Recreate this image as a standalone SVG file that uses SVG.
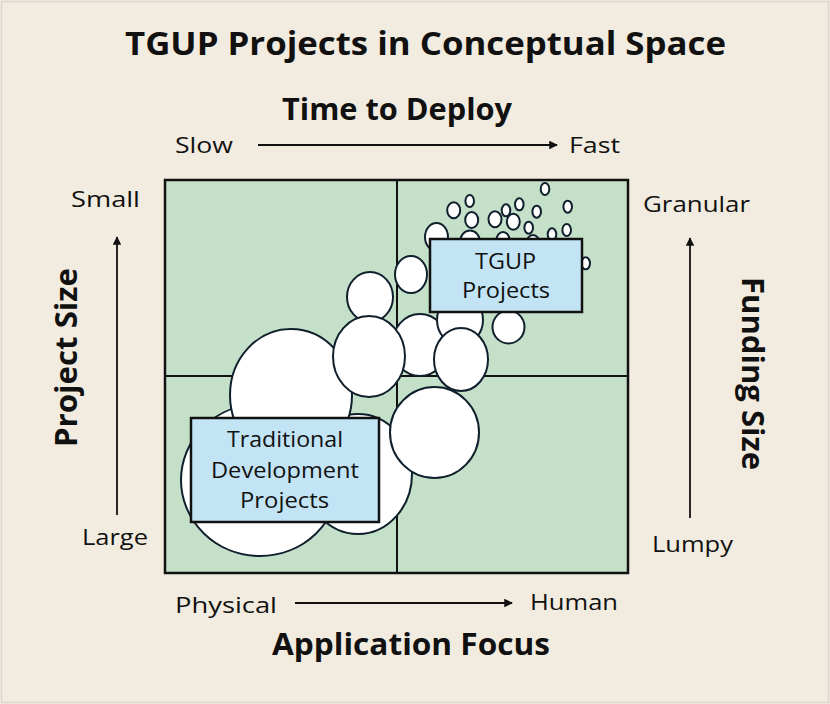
<svg xmlns="http://www.w3.org/2000/svg" width="830" height="704" viewBox="0 0 830 704">
  <defs>
    <style>
      .bg { fill: #f2ece0; }
      .quad { fill: #c5e0c9; }
      .grid { stroke: #111; stroke-width: 2; fill: none; }
      .frame { stroke: #111; stroke-width: 2.5; fill: none; }
      .bub { fill: #ffffff; stroke: #0f1f2c; stroke-width: 2; }
      .lbl { fill: #c2e4f4; stroke: #111; stroke-width: 2.5; }
      .t { font-family: "Open Sans", "Liberation Sans", sans-serif; fill: #111; }
      .h { font-family: "Open Sans", "Liberation Sans", sans-serif; font-weight: bold; fill: #111; }
      .ax { stroke: #111; stroke-width: 1.8; fill: none; }
    </style>
    <marker id="ah" viewBox="0 0 10 10" refX="9" refY="5" markerWidth="4.8" markerHeight="4.8" orient="auto" markerUnits="strokeWidth">
      <path d="M0,0 L10,5 L0,10 z" fill="#111"/>
    </marker>
  </defs>

  <rect class="bg" x="0" y="0" width="830" height="704"/>
  <rect x="1.5" y="1.5" width="827" height="701" fill="none" stroke="#dcd7ce" stroke-width="1.5"/>

  <text class="h" x="425.5" y="55" font-size="32" text-anchor="middle" textLength="601" lengthAdjust="spacingAndGlyphs">TGUP Projects in Conceptual Space</text>
  <text class="h" x="397" y="120" font-size="30" text-anchor="middle" textLength="230" lengthAdjust="spacingAndGlyphs">Time to Deploy</text>

  <g id="quadrants">
    <rect class="quad" x="165" y="180" width="463" height="393"/>
    <line class="grid" x1="397" y1="180" x2="397" y2="573"/>
    <line class="grid" x1="165" y1="376" x2="628" y2="376"/>
  </g>

  <g id="traditional-bubbles">
    <ellipse class="bub" cx="260" cy="480" rx="79" ry="76"/>
    <ellipse class="bub" cx="358" cy="474" rx="54" ry="60"/>
    <ellipse class="bub" cx="291" cy="395" rx="61" ry="66"/>
    <ellipse class="bub" cx="370" cy="297" rx="23" ry="25"/>
    <ellipse class="bub" cx="411" cy="274.5" rx="16" ry="18.5"/>
    <ellipse class="bub" cx="420" cy="345" rx="28" ry="31"/>
    <ellipse class="bub" cx="460" cy="320" rx="23" ry="25"/>
    <ellipse class="bub" cx="508.5" cy="327" rx="16" ry="16.5"/>
    <ellipse class="bub" cx="461" cy="359.5" rx="27" ry="31.5"/>
    <ellipse class="bub" cx="369" cy="356.5" rx="36" ry="40.5"/>
    <ellipse class="bub" cx="434.5" cy="432.5" rx="44.5" ry="45.5"/>
  </g>

  <g id="tgup-bubbles">
    <ellipse class="bub" cx="545" cy="189" rx="4.3" ry="6"/>
    <ellipse class="bub" cx="469.7" cy="201" rx="4.3" ry="6"/>
    <ellipse class="bub" cx="453.7" cy="210.3" rx="6.5" ry="8"/>
    <ellipse class="bub" cx="471.7" cy="220" rx="6.5" ry="8"/>
    <ellipse class="bub" cx="495" cy="219.3" rx="6.5" ry="8"/>
    <ellipse class="bub" cx="506" cy="210.3" rx="4.3" ry="6"/>
    <ellipse class="bub" cx="519.3" cy="204.3" rx="4.3" ry="6"/>
    <ellipse class="bub" cx="513.3" cy="221.7" rx="6.5" ry="8"/>
    <ellipse class="bub" cx="536.7" cy="211.7" rx="4.3" ry="6"/>
    <ellipse class="bub" cx="567.7" cy="206.7" rx="4.3" ry="6"/>
    <ellipse class="bub" cx="528.7" cy="227.7" rx="4.3" ry="6"/>
    <ellipse class="bub" cx="566.7" cy="230" rx="4.3" ry="6"/>
    <ellipse class="bub" cx="552" cy="234.3" rx="4.3" ry="6"/>
    <ellipse class="bub" cx="533" cy="243" rx="6.5" ry="8"/>
    <ellipse class="bub" cx="503" cy="240" rx="6.5" ry="8"/>
    <ellipse class="bub" cx="470" cy="242" rx="10" ry="11.5"/>
    <ellipse class="bub" cx="436.5" cy="237" rx="11.5" ry="14"/>
    <ellipse class="bub" cx="585.7" cy="263.3" rx="4.3" ry="6"/>
  </g>

  <g id="frame">
    <rect class="frame" x="165" y="180" width="463" height="393"/>
  </g>

  <g id="tgup-label">
    <rect class="lbl" x="430" y="239" width="152" height="73"/>
    <text class="t" x="505.5" y="269" font-size="22" text-anchor="middle" textLength="61" lengthAdjust="spacingAndGlyphs">TGUP</text>
    <text class="t" x="506" y="298" font-size="22" text-anchor="middle" textLength="88" lengthAdjust="spacingAndGlyphs">Projects</text>
  </g>

  <g id="traditional-label">
    <rect class="lbl" x="191" y="418" width="188" height="104"/>
    <text class="t" x="285" y="447" font-size="22" text-anchor="middle" textLength="116" lengthAdjust="spacingAndGlyphs">Traditional</text>
    <text class="t" x="285" y="478" font-size="22" text-anchor="middle" textLength="148" lengthAdjust="spacingAndGlyphs">Development</text>
    <text class="t" x="284.5" y="508" font-size="22" text-anchor="middle" textLength="89" lengthAdjust="spacingAndGlyphs">Projects</text>
  </g>

  <g id="connectors">
    <line class="ax" x1="258" y1="145" x2="557" y2="145" marker-end="url(#ah)"/>
    <line class="ax" x1="117" y1="515" x2="117" y2="237" marker-end="url(#ah)"/>
    <line class="ax" x1="690" y1="518" x2="690" y2="238" marker-end="url(#ah)"/>
    <line class="ax" x1="295" y1="603" x2="512" y2="603" marker-end="url(#ah)"/>
  </g>

  <g id="axis-texts">
    <text class="t" x="175" y="153" font-size="22" textLength="58" lengthAdjust="spacingAndGlyphs">Slow</text>
    <text class="t" x="569" y="153" font-size="22" textLength="51" lengthAdjust="spacingAndGlyphs">Fast</text>
    <text class="t" x="71" y="207" font-size="22" textLength="69" lengthAdjust="spacingAndGlyphs">Small</text>
    <text class="t" x="82" y="545" font-size="22" textLength="66" lengthAdjust="spacingAndGlyphs">Large</text>
    <text class="t" x="643" y="212" font-size="22" textLength="107" lengthAdjust="spacingAndGlyphs">Granular</text>
    <text class="t" x="652" y="552" font-size="22" textLength="81" lengthAdjust="spacingAndGlyphs">Lumpy</text>
    <text class="t" x="175" y="613" font-size="22" textLength="102" lengthAdjust="spacingAndGlyphs">Physical</text>
    <text class="t" x="530" y="610" font-size="22" textLength="88" lengthAdjust="spacingAndGlyphs">Human</text>
    <text class="h" x="411" y="655" font-size="30" text-anchor="middle" textLength="278" lengthAdjust="spacingAndGlyphs">Application Focus</text>
    <text class="h" transform="translate(77,357.5) rotate(-90)" x="0" y="0" font-size="31" text-anchor="middle" textLength="179" lengthAdjust="spacingAndGlyphs">Project Size</text>
    <text class="h" transform="translate(742,373.5) rotate(90)" x="0" y="0" font-size="31" text-anchor="middle" textLength="193" lengthAdjust="spacingAndGlyphs">Funding Size</text>
  </g>
</svg>
